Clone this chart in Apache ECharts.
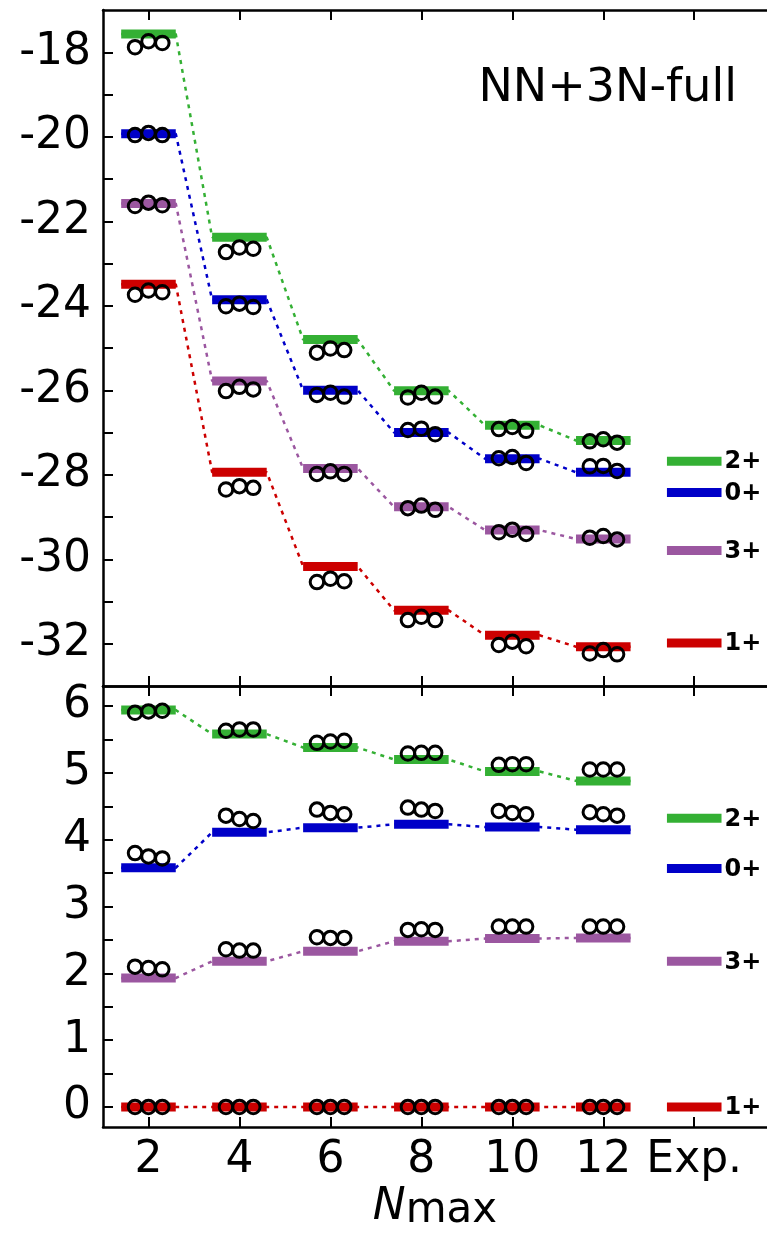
<!DOCTYPE html>
<html>
<head>
<meta charset="utf-8">
<script src="https://cdn.jsdelivr.net/npm/echarts@6/dist/echarts.min.js"></script>
<style>
  html, body { margin: 0; padding: 0; background: #fff; }
  #chart { width: 767px; height: 1241px; }
</style>
</head>
<body>
<div id="chart"></div>
<script>
// Model-space sizes along the x axis and the last column (experiment)
const nmaxLabels = ['2', '4', '6', '8', '10', '12', 'Exp.'];
const stateNames = ['2+', '0+', '3+', '1+'];
const stateColors = ['#34b034', '#0000c8', '#9b57a0', '#cc0000'];

// Absolute energies (MeV), one level per Nmax
const total2p = [-17.57, -22.38, -24.80, -26.01, -26.83, -27.19];
const total0p = [-19.93, -23.86, -26.00, -27.00, -27.62, -27.94];
const total3p = [-21.58, -25.78, -27.85, -28.76, -29.31, -29.52];
const total1p = [-23.49, -27.94, -30.17, -31.21, -31.80, -32.07];
const totalExp = [-27.68, -28.42, -29.79, -31.98];

// Absolute energies from the three comparison runs (circles)
const totalRuns2p = [[-17.88, -17.74, -17.78], [-22.73, -22.62, -22.65], [-25.11, -25.01, -25.05], [-26.17, -26.06, -26.15], [-26.92, -26.87, -26.96], [-27.21, -27.16, -27.24]];
const totalRuns0p = [[-19.96, -19.91, -19.96], [-24.01, -23.95, -24.03], [-26.11, -26.06, -26.15], [-26.94, -26.91, -27.04], [-27.61, -27.58, -27.72], [-27.80, -27.79, -27.91]];
const totalRuns3p = [[-21.64, -21.56, -21.62], [-26.02, -25.92, -25.98], [-27.98, -27.92, -27.98], [-28.79, -28.73, -28.83], [-29.36, -29.30, -29.40], [-29.49, -29.45, -29.53]];
const totalRuns1p = [[-23.74, -23.64, -23.68], [-28.35, -28.27, -28.31], [-30.54, -30.46, -30.52], [-31.44, -31.36, -31.44], [-32.03, -31.95, -32.06], [-32.23, -32.15, -32.25]];

// Excitation energies (MeV) relative to the 1+ ground state
const excite2p = [5.94, 5.58, 5.38, 5.20, 5.02, 4.88];
const excite0p = [3.58, 4.11, 4.18, 4.23, 4.19, 4.15];
const excite3p = [1.93, 2.18, 2.33, 2.48, 2.52, 2.53];
const excite1p = [0, 0, 0, 0, 0, 0];
const exciteExp = [4.32, 3.57, 2.18, 0];

const exciteRuns2p = [[5.90, 5.92, 5.93], [5.63, 5.65, 5.65], [5.45, 5.47, 5.48], [5.29, 5.30, 5.30], [5.12, 5.13, 5.13], [5.05, 5.05, 5.05]];
const exciteRuns0p = [[3.80, 3.75, 3.72], [4.36, 4.31, 4.28], [4.45, 4.40, 4.38], [4.48, 4.45, 4.43], [4.43, 4.40, 4.38], [4.41, 4.38, 4.36]];
const exciteRuns3p = [[2.10, 2.08, 2.06], [2.36, 2.34, 2.34], [2.54, 2.53, 2.53], [2.65, 2.66, 2.65], [2.70, 2.70, 2.70], [2.70, 2.70, 2.70]];
const exciteRuns1p = [[0, 0, 0], [0, 0, 0], [0, 0, 0], [0, 0, 0], [0, 0, 0], [0, 0, 0]];

const topYTicks = [-32, -31, -30, -29, -28, -27, -26, -25, -24, -23, -22, -21, -20, -19, -18];
const topYLabels = [-32, -30, -28, -26, -24, -22, -20, -18];
const bottomYTicks = [0, 0.5, 1, 1.5, 2, 2.5, 3, 3.5, 4, 4.5, 5, 5.5, 6];
const bottomYLabels = [0, 1, 2, 3, 4, 5, 6];

// drawing constants
const FONT = '"DejaVu Sans", Verdana, sans-serif';
const HALF_W = 0.3;        // half width of a level bar, in column units
const BAR_H = 9;           // bar thickness in px
const RUN_OFFSETS = [-0.148, 0, 0.152];
const XTICKS = [0, 1, 2, 3, 4, 5, 6];

function levelBars(axisIdx, levels, expValue, color, label) {
  const data = levels.map((v, i) => [i, v]).concat([[6, expValue]]);
  return {
    type: 'custom', xAxisIndex: axisIdx * 2, yAxisIndex: axisIdx, z: 3, silent: true,
    data: data,
    renderItem: function (params, api) {
      const x = api.value(0), y = api.value(1);
      const p0 = api.coord([x - HALF_W, y]);
      const p1 = api.coord([x + HALF_W, y]);
      const children = [{
        type: 'rect',
        shape: { x: p0[0], y: p0[1] - BAR_H / 2, width: p1[0] - p0[0], height: BAR_H },
        style: { fill: color }
      }];
      if (x === 6) {
        children.push({
          type: 'text',
          style: {
            text: label, x: p1[0] + 3, y: p1[1] + 1,
            align: 'left', verticalAlign: 'middle',
            font: 'bold 24px "DejaVu Sans", sans-serif', fill: '#000'
          }
        });
      }
      return { type: 'group', children: children };
    }
  };
}

function connector(axisIdx, levels, color) {
  const pts = [];
  levels.forEach((v, i) => { pts.push([i - HALF_W, v]); pts.push([i + HALF_W, v]); });
  return {
    type: 'line', xAxisIndex: axisIdx * 2, yAxisIndex: axisIdx, z: 2, silent: true,
    data: pts, showSymbol: false, symbol: 'none',
    lineStyle: { color: color, width: 2.5, type: [4, 5] }
  };
}

function runCircles(axisIdx, runs) {
  const pts = [];
  runs.forEach((trip, i) => trip.forEach((v, k) => pts.push([i + RUN_OFFSETS[k], v])));
  return {
    type: 'scatter', xAxisIndex: axisIdx * 2, yAxisIndex: axisIdx, z: 4, silent: true,
    data: pts, symbol: 'circle', symbolSize: 13.5,
    itemStyle: { color: 'rgba(255,255,255,0)', borderColor: '#000', borderWidth: 3, opacity: 1 }
  };
}

function xAxes(gridIdx, withLabels) {
  const common = {
    type: 'value', gridIndex: gridIdx, min: -0.5, max: 6.8,
    axisLine: { onZero: false, lineStyle: { color: '#000', width: 2.5 } },
    axisTick: { inside: true, length: 10, customValues: XTICKS, lineStyle: { color: '#000', width: 2 } },
    splitLine: { show: false }
  };
  const bottom = Object.assign({}, common, {
    position: 'bottom',
    axisLabel: {
      show: withLabels, customValues: XTICKS, margin: 12,
      formatter: v => nmaxLabels[Math.round(v)],
      fontFamily: FONT, fontSize: 44, color: '#000', lineHeight: 44
    }
  });
  if (withLabels) {
    Object.assign(bottom, {
      name: '{n|N}{m|max}', nameLocation: 'middle', nameGap: 58,
      nameTextStyle: {
        rich: {
          n: { fontFamily: FONT, fontSize: 44, fontStyle: 'italic', color: '#000', lineHeight: 44 },
          m: { fontFamily: FONT, fontSize: 42, color: '#000', lineHeight: 44, padding: [6, 0, 0, 0] }
        }
      }
    });
  }
  const top = Object.assign({}, common, { position: 'top', axisLabel: { show: false } });
  return [bottom, top];
}

function yAxis(gridIdx, min, max, ticks, labels) {
  return {
    type: 'value', gridIndex: gridIdx, min: min, max: max, position: 'left',
    axisLine: { show: true, onZero: false, lineStyle: { color: '#000', width: 2.5 } },
    axisTick: { show: true, inside: true, length: 10, customValues: ticks, lineStyle: { color: '#000', width: 2 } },
    axisLabel: {
      customValues: labels, margin: 12,
      formatter: v => String(v),
      fontFamily: FONT, fontSize: 44, color: '#000'
    },
    splitLine: { show: false }
  };
}

const totals = [total2p, total0p, total3p, total1p];
const totalRuns = [totalRuns2p, totalRuns0p, totalRuns3p, totalRuns1p];
const excites = [excite2p, excite0p, excite3p, excite1p];
const exciteRuns = [exciteRuns2p, exciteRuns0p, exciteRuns3p, exciteRuns1p];

const series = [];
stateNames.forEach((name, s) => {
  series.push(connector(0, totals[s], stateColors[s]));
  series.push(levelBars(0, totals[s], totalExp[s], stateColors[s], name));
  series.push(runCircles(0, totalRuns[s]));
  series.push(connector(1, excites[s], stateColors[s]));
  series.push(levelBars(1, excites[s], exciteExp[s], stateColors[s], name));
  series.push(runCircles(1, exciteRuns[s]));
});

const chart = echarts.init(document.getElementById('chart'), null, { renderer: 'canvas' });
chart.setOption({
  animation: false,
  backgroundColor: '#fff',
  title: {
    text: 'NN+3N-full', right: 25, top: 61,
    textStyle: { fontFamily: FONT, fontSize: 46, fontWeight: 'normal', color: '#000' }
  },
  grid: [
    { left: 103, right: 0, top: 10, height: 676 },
    { left: 103, right: 0, top: 686, height: 441 }
  ],
  xAxis: xAxes(0, false).concat(xAxes(1, true)),
  yAxis: [
    yAxis(0, -33, -17, topYTicks, topYLabels),
    yAxis(1, -0.3, 6.3, bottomYTicks, bottomYLabels)
  ],
  series: series
});
</script>
</body>
</html>
